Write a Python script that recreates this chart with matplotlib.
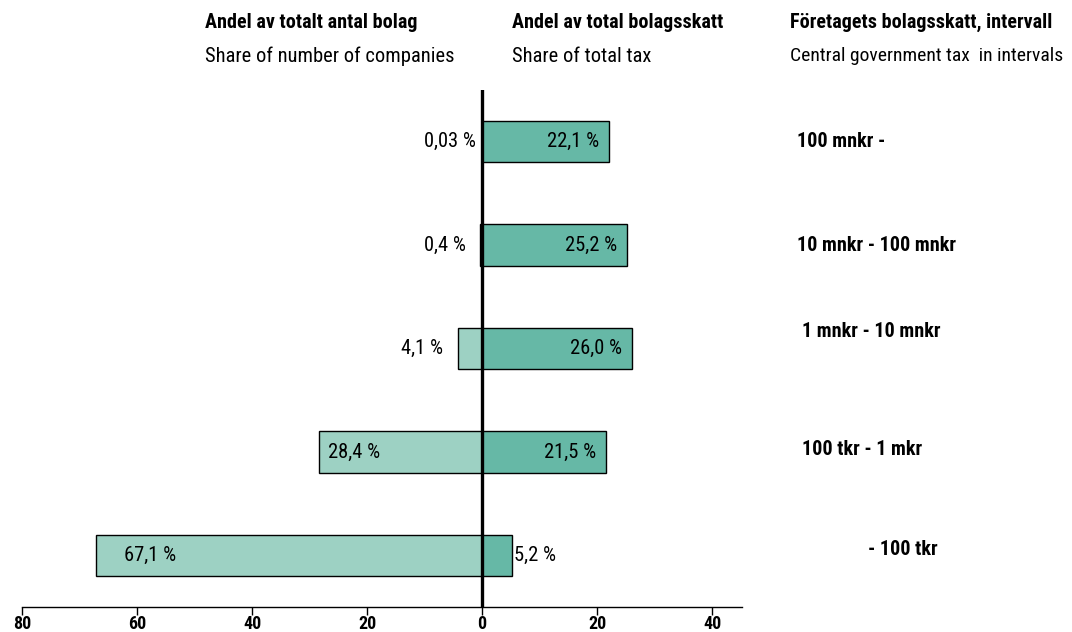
import matplotlib
matplotlib.use("Agg")
from matplotlib import pyplot as plt
from matplotlib import font_manager as fm
from matplotlib.ticker import FixedLocator, FuncFormatter

# data, bottom to top
intervals = ["- 100 tkr", "100 tkr - 1 mkr", "1 mnkr - 10 mnkr",
             "10 mnkr - 100 mnkr", "100 mnkr -"]
share_companies = [67.1, 28.4, 4.1, 0.4, 0.03]
share_tax = [5.2, 21.5, 26.0, 25.2, 22.1]
companies_labels = ["67,1 %", "28,4 %", "4,1 %", "0,4 %", "0,03 %"]
tax_labels = ["5,2 %", "21,5 %", "26,0 %", "25,2 %", "22,1 %"]
xticks = [-80, -60, -40, -20, 0, 20, 40]

# prefer a narrow font with a bold weight (the original looks like Arial Narrow)
fonts = {}
for f in fm.fontManager.ttflist:
    fonts.setdefault(f.name, set()).add(f.weight)
narrow = None
for cand in ["Liberation Sans Narrow", "Arial Narrow", "Roboto Condensed",
             "Open Sans Condensed", "Archivo Narrow"]:
    w = fonts.get(cand, set())
    if any(isinstance(x, int) and x >= 600 or x == "bold" for x in w):
        narrow = cand
        break
if narrow:
    plt.rcParams["font.family"] = [narrow, "DejaVu Sans"]
    fs, fsb = 14.8, 14.5
else:
    plt.rcParams["font.family"] = ["Liberation Sans", "DejaVu Sans"]
    fs, fsb = 12.3, 11.5

light = "#9dd1c3"
dark = "#66b8a6"

fig = plt.figure(figsize=(10.72, 6.32), dpi=100)
ax = fig.add_axes([22 / 1072, 25 / 632, 720 / 1072, 517 / 632])

y = list(range(len(intervals)))
neg = [-v for v in share_companies]
ax.barh(y, neg, height=0.4, color=light, edgecolor="black", linewidth=1)
ax.barh(y, share_tax, height=0.4, color=dark, edgecolor="black", linewidth=1)
ax.axvline(0, color="black", linewidth=2.4)

for i in y:
    # left labels
    v = share_companies[i]
    if v > 20:
        ax.text(-v + (4.8 if v > 50 else 1.6), i, companies_labels[i], ha="left",
                va="center", fontsize=fs)
    else:
        ax.text(-v - 2.7 if v > 1 else -2.9 if v > 0.1 else -1.0, i,
                companies_labels[i], ha="right", va="center", fontsize=fs)
    # right labels
    t = share_tax[i]
    if t > 10:
        ax.text(t - 1.7, i, tax_labels[i], ha="right", va="center", fontsize=fs)
    else:
        ax.text(t + 0.4, i, tax_labels[i], ha="left", va="center", fontsize=fs)

# interval labels on the right
label_x = [868, 802, 802, 797, 797]
label_dy = [0.06, 0.02, 0.16, 0.0, 0.0]
for i, name in enumerate(intervals):
    ax.text((label_x[i] - 22) / 720, i + label_dy[i], name,
            transform=ax.get_yaxis_transform(), ha="left", va="center",
            fontsize=fsb, fontweight="bold", clip_on=False)

ax.set_xlim(-80, 45.2)
ax.set_ylim(-0.5, 4.5)
ax.xaxis.set_major_locator(FixedLocator(xticks))
ax.xaxis.set_major_formatter(FuncFormatter(lambda v, p: f"{abs(v):.0f}"))
for lab in ax.get_xticklabels():
    lab.set_fontweight("bold")
ax.tick_params(axis="x", length=6, width=1, labelsize=fsb - 1.5, pad=0)
ax.set_yticks([])
for s in ["top", "left", "right"]:
    ax.spines[s].set_visible(False)
ax.spines["bottom"].set_linewidth(1)

# headers
fig.text(205 / 1072, 1 - 22 / 632, "Andel av totalt antal bolag", fontsize=fsb,
         fontweight="bold", va="center")
fig.text(205 / 1072, 1 - 56 / 632, "Share of number of companies", fontsize=fs,
         va="center")
fig.text(512 / 1072, 1 - 22 / 632, "Andel av total bolagsskatt", fontsize=fsb,
         fontweight="bold", va="center")
fig.text(512 / 1072, 1 - 56 / 632, "Share of total tax", fontsize=fs, va="center")
fig.text(790 / 1072, 1 - 22 / 632, "Företagets bolagsskatt, intervall", fontsize=fsb,
         fontweight="bold", va="center")
fig.text(790 / 1072, 1 - 56 / 632, "Central government tax  in intervals",
         fontsize=fs - 0.8, va="center")

fig.savefig("out.png", dpi=100)
